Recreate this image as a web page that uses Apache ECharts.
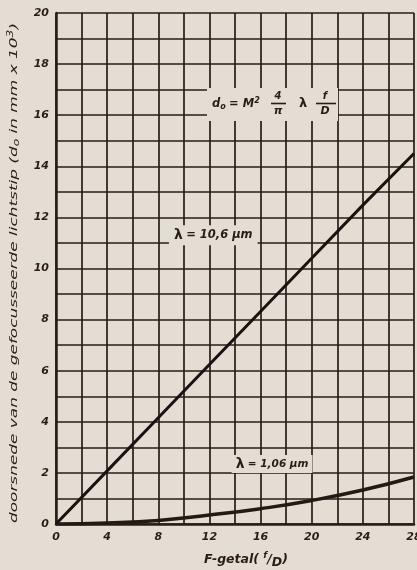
<!DOCTYPE html>
<html><head><meta charset="utf-8">
<script src="https://cdn.jsdelivr.net/npm/echarts@6/dist/echarts.min.js"></script>
<style>html,body{margin:0;padding:0;background:#e3ddd4;}#c{width:417px;height:570px;}</style>
</head><body><div id="c"></div>
<script>
// Data
var fNumbers = [0, 4, 8, 12, 16, 20, 24, 28];
var spot106 = [0, 2.08, 4.16, 6.24, 8.32, 10.4, 12.48, 14.5];   // lambda = 10,6 um
var spot1060 = [0, 0.04, 0.14, 0.35, 0.6, 0.92, 1.33, 1.84];    // lambda = 1,06 um
var xTickLabels = ['0', '4', '8', '12', '16', '20', '24', '28'];
var yTickLabels = ['0', '2', '4', '6', '8', '10', '12', '14', '16', '18', '20'];
var yTitle = 'doorsnede van de gefocusseerde lichtstip (d';
var yTitleSub = 'o';
var yTitleRest = ' in mm x 10';
var yTitleSup = '3';

var ink = '#2a1c17';
var bg = '#e3ddd4';
var fnt = 'DejaVu Sans';

function pairs(xs, ys) { return xs.map(function (x, i) { return [x, ys[i]]; }); }

// measure y-title so it can be stretched to the full plot height like the original lettering
var cv = document.createElement('canvas').getContext('2d');
cv.font = 'oblique 11px "DejaVu Sans"';
var wMain = cv.measureText(yTitle + yTitleRest + ')').width;
cv.font = 'oblique 8px "DejaVu Sans"';
var wSmall = cv.measureText(yTitleSub + yTitleSup).width;
var yTitleScale = 500 / (wMain + wSmall);

var chart = echarts.init(document.getElementById('c'));
chart.setOption({
  backgroundColor: bg,
  animation: false,
  grid: { left: 56, right: 3, top: 13, bottom: 46, containLabel: false, outerBoundsMode: 'none' },
  xAxis: {
    type: 'value', min: 0, max: 28, interval: 2,
    axisLine: { show: true, onZero: false, lineStyle: { color: ink, width: 2.5 } },
    axisTick: { show: false },
    splitLine: { show: true, lineStyle: { color: ink, width: 1.7 } },
    axisLabel: {
      margin: 8, color: ink, fontFamily: fnt, fontStyle: 'italic', fontWeight: 'bold', fontSize: 11,
      formatter: function (v) { var i = xTickLabels.indexOf(String(v)); return i >= 0 ? xTickLabels[i] : ''; }
    },
    name: '{a|F-getal( }{s|f}{a|/}{d|D}{a|)}',
    nameLocation: 'middle', nameGap: 26,
    nameTextStyle: {
      padding: [0, 0, 0, 22],
      rich: {
        a: { color: ink, fontFamily: fnt, fontStyle: 'italic', fontWeight: 'bold', fontSize: 12.5 },
        s: { color: ink, fontFamily: fnt, fontStyle: 'italic', fontWeight: 'bold', fontSize: 9, padding: [0, 0, 7, 0] },
        d: { color: ink, fontFamily: fnt, fontStyle: 'italic', fontWeight: 'bold', fontSize: 12.5, padding: [6, 0, 0, 0] }
      }
    }
  },
  yAxis: {
    type: 'value', min: 0, max: 20, interval: 1,
    axisLine: { show: true, lineStyle: { color: ink, width: 2.5 } },
    axisTick: { show: false },
    splitLine: { show: true, lineStyle: { color: ink, width: 1.7 } },
    axisLabel: {
      margin: 7, color: ink, fontFamily: fnt, fontStyle: 'italic', fontWeight: 'bold', fontSize: 11,
      formatter: function (v) { var i = yTickLabels.indexOf(String(v)); return i >= 0 ? yTickLabels[i] : ''; }
    }
  },
  series: [
    {
      type: 'line', data: pairs(fNumbers, spot106), showSymbol: false, symbol: 'none',
      lineStyle: { color: '#1a1210', width: 3 },
      z: 5,
      markPoint: {
        symbol: 'rect', symbolSize: 0,
        data: [{ coord: [12.3, 11.3] }],
        label: {
          show: true, formatter: '{l|λ} {a|= 10,6 µm}',
          backgroundColor: bg, padding: [3, 5, 3, 5],
          rich: {
            l: { color: ink, fontFamily: fnt, fontWeight: 'bold', fontSize: 14 },
            a: { color: ink, fontFamily: fnt, fontStyle: 'italic', fontWeight: 'bold', fontSize: 11.5 }
          }
        }
      }
    },
    {
      type: 'line', data: pairs(fNumbers, spot1060), smooth: true, showSymbol: false, symbol: 'none',
      lineStyle: { color: '#241915', width: 3.5 },
      z: 5,
      markPoint: {
        symbol: 'rect', symbolSize: 0,
        data: [{ coord: [16.9, 2.35] }],
        label: {
          show: true, formatter: '{l|λ} {a|= 1,06 µm}',
          backgroundColor: bg, padding: [2, 4, 2, 4],
          rich: {
            l: { color: ink, fontFamily: fnt, fontWeight: 'bold', fontSize: 14 },
            a: { color: ink, fontFamily: fnt, fontStyle: 'italic', fontWeight: 'bold', fontSize: 10.5 }
          }
        }
      }
    }
  ],
  graphic: [
    { type: 'text', x: 14, y: 273, rotation: Math.PI / 2, scaleX: yTitleScale, z: 11, style: {
        text: '{a|' + yTitle + '}{s|' + yTitleSub + '}{a|' + yTitleRest + '}{p|' + yTitleSup + '}{a|)}',
        align: 'center', verticalAlign: 'middle',
        rich: {
          a: { fill: ink, fontFamily: fnt, fontStyle: 'italic', fontSize: 11 },
          s: { fill: ink, fontFamily: fnt, fontStyle: 'italic', fontSize: 8, padding: [5, 0, 0, 0] },
          p: { fill: ink, fontFamily: fnt, fontStyle: 'italic', fontSize: 8, padding: [0, 0, 7, 0] }
        } } },
    { type: 'rect', shape: { x: 207, y: 88, width: 131, height: 33 }, style: { fill: bg }, z: 10 },
    { type: 'text', x: 212, y: 104, z: 11, style: {
        text: '{i|d}{s|o} {i|= M}{p|2}', verticalAlign: 'middle',
        rich: {
          i: { fill: ink, fontFamily: fnt, fontStyle: 'italic', fontWeight: 'bold', fontSize: 11.5 },
          s: { fill: ink, fontFamily: fnt, fontStyle: 'italic', fontWeight: 'bold', fontSize: 8, padding: [5, 0, 0, 0] },
          p: { fill: ink, fontFamily: fnt, fontStyle: 'italic', fontWeight: 'bold', fontSize: 8, padding: [0, 0, 7, 0] }
        } } },
    { type: 'text', x: 278, y: 96, z: 11, style: { text: '4', align: 'center', verticalAlign: 'middle', fill: ink, font: 'italic bold 10px "DejaVu Sans"' } },
    { type: 'line', z: 11, shape: { x1: 271, y1: 103.5, x2: 286, y2: 103.5 }, style: { stroke: ink, lineWidth: 1.6 } },
    { type: 'text', x: 278, y: 111, z: 11, style: { text: 'π', align: 'center', verticalAlign: 'middle', fill: ink, font: 'italic bold 11px "DejaVu Sans"' } },
    { type: 'text', x: 303, y: 104, z: 11, style: { text: 'λ', align: 'center', verticalAlign: 'middle', fill: ink, font: 'bold 13px "DejaVu Sans"' } },
    { type: 'text', x: 325, y: 96, z: 11, style: { text: 'f', align: 'center', verticalAlign: 'middle', fill: ink, font: 'italic bold 10px "DejaVu Sans"' } },
    { type: 'line', z: 11, shape: { x1: 316, y1: 103.5, x2: 336, y2: 103.5 }, style: { stroke: ink, lineWidth: 1.6 } },
    { type: 'text', x: 325, y: 111, z: 11, style: { text: 'D', align: 'center', verticalAlign: 'middle', fill: ink, font: 'italic bold 11px "DejaVu Sans"' } }
  ]
});
</script>
</body></html>
